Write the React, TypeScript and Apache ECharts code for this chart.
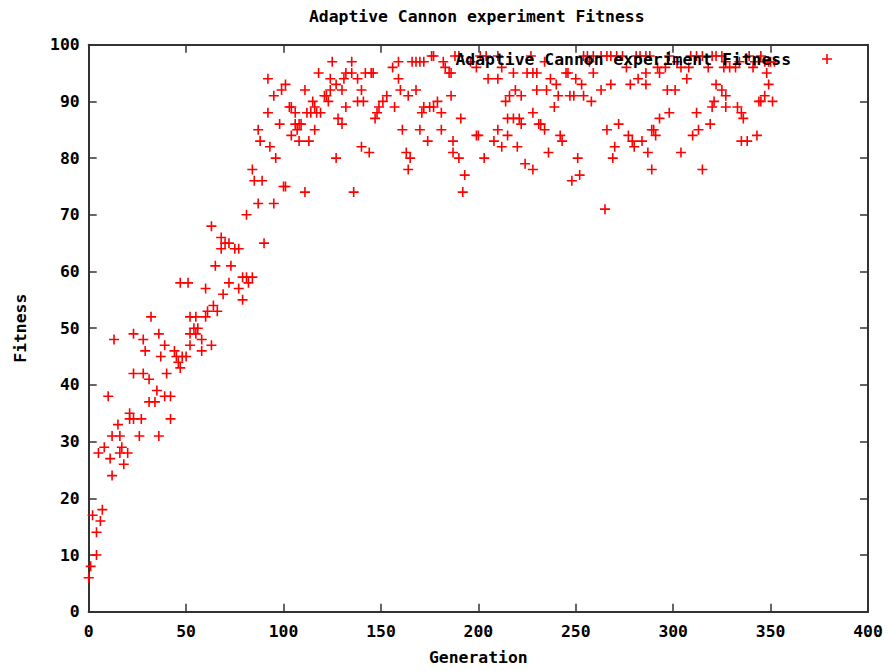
import React, { useEffect, useRef } from "react";
import * as echarts from "echarts";

const TITLE = "Adaptive Cannon experiment Fitness";
const SERIES_NAME = "Adaptive Cannon experiment Fitness";
const X_NAME = "Generation";
const Y_NAME = "Fitness";
const X_MIN = 0, X_MAX = 400, X_STEP = 50;
const Y_MIN = 0, Y_MAX = 100, Y_STEP = 10;

// [generation, fitness]
const risingPhase: number[][] = [
  [0,6],[2,17],[1,8],[4,10],[4,14],[6,16],[7,18],[5,28],[8,29],[10,38],[11,27],[12,31],[12,24],[13,48],
  [15,33],[16,28],[16,31],[17,29],[18,26],[20,28],[21,34],[21,35],[23,34],[23,42],[23,49],[26,31],[27,34],
  [28,42],[28,48],[29,46],[31,37],[31,41],[32,52],[34,37],[35,39],[36,31],[36,49],[37,45],[39,38],[39,47],
  [40,42],[42,34],[42,38],[44,46],[45,45],[46,44],[47,43],[47,58],[48,45],[50,45],[51,58],[52,47],[52,49],
  [52,52],[54,50],[55,49],[55,52],[56,50],[58,46],[58,48],[60,52],[60,57],
];

const climbPhase: number[][] = [
  [61,53],[63,47],[63,68],[64,54],[65,61],[66,53],[68,64],[68,66],[69,56],[70,65],[72,58],[72,65],[73,61],
  [75,64],[77,57],[77,64],[79,55],[79,59],[81,59],[81,70],[82,58],[84,59],[84,78],[85,76],[87,72],[87,85],
  [88,83],[89,76],[90,65],[92,88],[92,94],[93,82],[95,72],[95,91],[96,80],[98,86],[99,92],[100,75],[101,75],
  [101,93],
];

const plateauEarly: number[][] = [
  [103,89],[104,84],[104,89],[106,88],[106,86],[107,85],[108,83],[108,86],[109,86],[111,92],[111,74],[112,88],
  [113,83],[114,88],[115,90],[116,89],[116,85],[117,88],[118,95],[119,88],[121,91],[122,91],[123,90],[124,92],
  [124,94],[125,97],[127,93],[127,80],[128,87],[130,86],[130,92],[131,94],[132,95],[132,89],[135,95],[135,97],
  [136,74],[138,94],[138,90],[140,92],[140,82],[141,90],[142,95],[144,81],[145,95],[146,95],[147,87],[148,88],
  [149,89],[151,90],[153,91],[156,96],[157,89],[159,94],[159,97],[160,92],[161,85],[163,81],[164,78],[164,91],
];

const plateauMiddle: number[][] = [
  [165,80],[166,97],[168,97],[168,92],[170,97],[170,85],[171,88],[172,97],[172,89],[174,83],[175,89],[176,98],
  [177,98],[177,89],[179,90],[181,88],[181,85],[182,97],[183,96],[185,95],[186,95],[186,91],[187,83],[187,81],
  [188,98],[190,98],[190,80],[191,87],[192,74],[193,77],[196,97],[199,96],[199,84],[200,84],[201,98],[203,80],
  [204,98],[205,94],[208,83],[210,98],[210,94],[210,85],[212,96],[212,82],[214,90],[215,87],[215,84],[216,91],
  [218,95],[218,87],[219,92],[220,82],[221,87],[222,86],[222,91],[224,79],[225,95],[227,98],[228,95],[228,88],
  [228,78],[230,95],[230,92],[231,86],[232,86],[234,97],[234,85],[235,92],[236,81],[237,94],[239,89],[240,93],
  [241,91],[242,84],[243,83],[245,95],[246,95],[247,91],[248,76],[249,91],[250,94],[251,80],[252,77],
];

const plateauLate: number[][] = [
  [253,93],[254,91],[254,98],[256,98],[257,97],[258,90],[259,98],[259,95],[263,98],[263,92],[265,71],[266,85],
  [266,98],[268,93],[268,98],[269,80],[270,82],[271,98],[272,86],[274,98],[276,96],[277,84],[278,93],[279,83],
  [280,82],[281,98],[282,94],[283,98],[284,83],[286,93],[286,95],[286,98],[287,81],[288,98],[289,78],[289,85],
  [290,85],[291,84],[292,96],[293,87],[293,95],[296,96],[297,92],[298,88],[298,98],[301,92],[302,97],[304,96],
  [304,81],[307,94],[308,96],[309,98],[310,84],[312,88],[312,98],[313,85],[315,98],[315,78],[318,96],[319,86],
  [320,98],[320,89],[321,90],[322,93],[322,98],[325,92],[325,98],[326,96],
];

const plateauEnd: number[][] = [
  [327,97],[327,91],[327,89],[329,96],[332,96],[333,89],[334,97],[335,88],[335,83],[336,87],[338,83],[339,98],
  [341,96],[342,97],[343,84],[344,90],[345,90],[345,98],[347,97],[347,91],[348,95],[349,93],[349,97],[350,97],
  [351,90],[352,97],
];

const FONT = "'DejaVu Sans Mono', 'Liberation Mono', monospace";
const FS = 16.4;
const AXIS_COLOR = "#333";
const PLUS = "path://M0,4.2H4.2V0H5.8V4.2H10V5.8H5.8V10H4.2V5.8H0Z";

export default function App() {
  const ref = useRef<HTMLDivElement>(null);
  useEffect(() => {
    if (!ref.current) return;
    const chart = echarts.init(ref.current, undefined, { renderer: "svg" });
    const data = [
      ...risingPhase,
      ...climbPhase,
      ...plateauEarly,
      ...plateauMiddle,
      ...plateauLate,
      ...plateauEnd,
    ];
    const textBase = { fontFamily: FONT, fontSize: FS, fontWeight: "bold" as const, color: "#000" };
    const line = { show: true, onZero: false, lineStyle: { color: AXIS_COLOR, width: 2 } };
    const tick = { show: true, inside: true, length: 8, lineStyle: { color: AXIS_COLOR, width: 1.5 } };
    chart.setOption({
      animation: false,
      backgroundColor: "#fff",
      title: {
        text: TITLE,
        left: 309,
        top: 8,
        padding: 0,
        textStyle: { ...textBase },
      },
      legend: {
        show: true,
        selectedMode: false,
        data: [{ name: SERIES_NAME, icon: PLUS }],
        align: "right",
        right: 58,
        top: 51,
        padding: 0,
        itemWidth: 10,
        itemHeight: 10,
        textStyle: { ...textBase, padding: [0, 26, 0, 0] },
      },
      grid: {
        left: 88.7,
        right: 22,
        top: 44.7,
        bottom: 59.3,
        containLabel: false,
        outerBoundsMode: "none",
      },
      xAxis: [
        {
          type: "value",
          min: X_MIN,
          max: X_MAX,
          interval: X_STEP,
          position: "bottom",
          axisLine: line,
          axisTick: tick,
          splitLine: { show: false },
          axisLabel: { ...textBase, margin: 12 },
          name: X_NAME,
          nameLocation: "middle",
          nameGap: 38,
          nameTextStyle: { ...textBase },
        },
        {
          type: "value",
          min: X_MIN,
          max: X_MAX,
          interval: X_STEP,
          position: "top",
          axisLine: line,
          axisTick: tick,
          splitLine: { show: false },
          axisLabel: { show: false },
        },
      ],
      yAxis: [
        {
          type: "value",
          min: Y_MIN,
          max: Y_MAX,
          interval: Y_STEP,
          position: "left",
          axisLine: line,
          axisTick: tick,
          splitLine: { show: false },
          axisLabel: { ...textBase, margin: 9 },
          name: Y_NAME,
          nameLocation: "middle",
          nameGap: 60,
          nameRotate: 90,
          nameTextStyle: { ...textBase },
        },
        {
          type: "value",
          min: Y_MIN,
          max: Y_MAX,
          interval: Y_STEP,
          position: "right",
          axisLine: line,
          axisTick: tick,
          splitLine: { show: false },
          axisLabel: { show: false },
        },
      ],
      series: [
        {
          name: SERIES_NAME,
          type: "scatter",
          xAxisIndex: 0,
          yAxisIndex: 0,
          symbol: PLUS,
          symbolSize: 10,
          itemStyle: { color: "#ff0000", opacity: 1 },
          data,
        },
      ],
    });
    return () => chart.dispose();
  }, []);
  return (
    <div
      ref={ref}
      style={{ position: "fixed", left: 0, top: 0, width: 890, height: 671, background: "#fff" }}
    />
  );
}
